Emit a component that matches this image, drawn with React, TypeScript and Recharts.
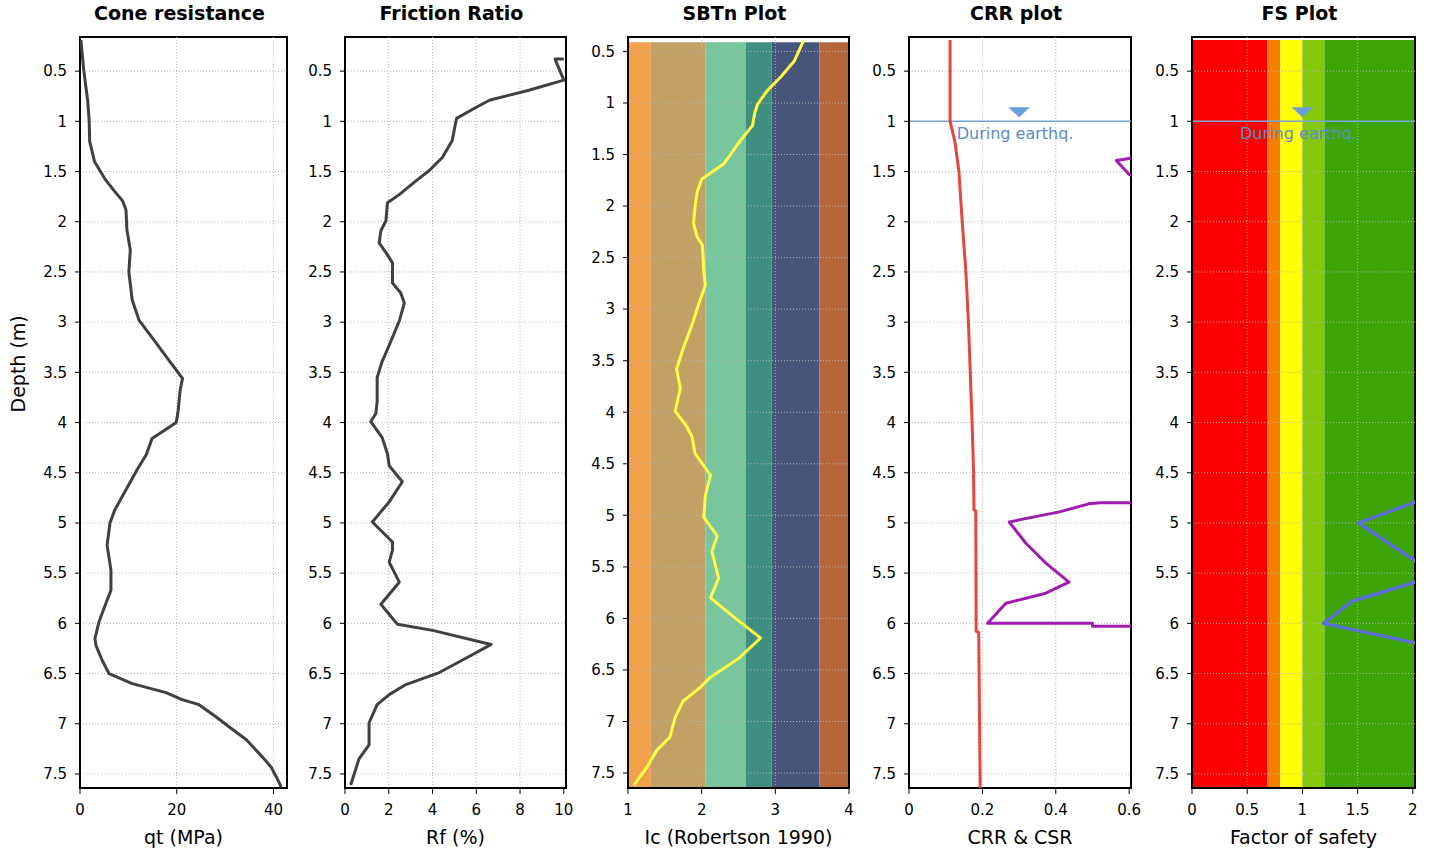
import React from "react";
import {
  ReferenceArea,
  ReferenceDot,
  ReferenceLine,
  Scatter,
  ScatterChart,
  XAxis,
  YAxis,
} from "recharts";

const FONT = "Tahoma, 'DejaVu Sans', sans-serif";

const depthTicks = [0.5, 1, 1.5, 2, 2.5, 3, 3.5, 4, 4.5, 5, 5.5, 6, 6.5, 7, 7.5];

// cone resistance qt (MPa)
const qtDepth = [0.19, 0.3, 0.5, 0.65, 0.8, 1.0, 1.2, 1.4, 1.57, 1.7, 1.79, 1.88, 2.08, 2.28, 2.5, 2.78, 2.98, 3.18, 3.38, 3.56, 3.68, 3.88, 4.0, 4.16, 4.32, 4.47, 4.67, 4.87, 5.0, 5.22, 5.47, 5.67, 5.82, 5.99, 6.15, 6.22, 6.37, 6.5, 6.6, 6.69, 6.76, 6.81, 6.93, 7.03, 7.16, 7.33, 7.43, 7.53, 7.63];
const qtValue = [0.2, 0.4, 0.8, 1.2, 1.6, 1.9, 2.0, 3.0, 5.1, 7.2, 8.8, 9.5, 9.7, 10.4, 10.1, 10.8, 12.2, 15.3, 18.4, 21.2, 20.7, 20.3, 19.9, 14.9, 13.7, 11.8, 9.5, 7.2, 6.2, 5.6, 6.4, 6.4, 5.2, 3.9, 3.1, 3.3, 4.6, 6.0, 10.8, 17.8, 21.1, 24.6, 28.1, 30.8, 34.4, 37.7, 39.5, 40.6, 41.6];

// friction ratio Rf (%)
const rfDepth = [0.38, 0.38, 0.59, 0.69, 0.79, 0.86, 0.97, 1.19, 1.36, 1.49, 1.6, 1.73, 1.81, 1.99, 2.09, 2.21, 2.33, 2.41, 2.61, 2.71, 2.81, 2.99, 3.23, 3.39, 3.55, 3.79, 3.91, 3.99, 4.15, 4.31, 4.43, 4.59, 4.79, 4.99, 5.19, 5.27, 5.39, 5.59, 5.81, 6.01, 6.07, 6.21, 6.31, 6.49, 6.61, 6.71, 6.81, 6.99, 7.21, 7.35, 7.61];
const rfValue = [10.0, 9.6, 10.0, 8.4, 6.6, 6.0, 5.1, 4.9, 4.45, 3.85, 3.2, 2.48, 1.94, 1.87, 1.64, 1.56, 1.94, 2.17, 2.17, 2.55, 2.71, 2.48, 2.02, 1.7, 1.47, 1.47, 1.41, 1.18, 1.7, 1.94, 2.02, 2.62, 2.02, 1.25, 2.17, 2.17, 2.02, 2.48, 1.64, 2.4, 4.0, 6.68, 5.84, 4.31, 2.78, 2.02, 1.47, 1.1, 1.1, 0.64, 0.26];

// soil behaviour type index Ic
const icDepth = [0.4, 0.59, 0.75, 0.88, 1.01, 1.1, 1.22, 1.36, 1.59, 1.74, 1.86, 2.01, 2.17, 2.3, 2.38, 2.64, 2.77, 2.95, 3.15, 3.38, 3.58, 3.77, 3.99, 4.14, 4.24, 4.4, 4.61, 4.81, 5.02, 5.2, 5.35, 5.61, 5.8, 6.0, 6.19, 6.39, 6.57, 6.67, 6.8, 6.96, 7.15, 7.28, 7.45, 7.62];
const icValue = [3.38, 3.26, 3.07, 2.89, 2.76, 2.72, 2.69, 2.53, 2.3, 2.0, 1.94, 1.91, 1.89, 1.94, 2.01, 2.03, 2.05, 1.96, 1.87, 1.75, 1.66, 1.71, 1.64, 1.8, 1.87, 1.91, 2.12, 2.05, 2.03, 2.21, 2.14, 2.23, 2.12, 2.46, 2.8, 2.5, 2.12, 1.98, 1.75, 1.64, 1.57, 1.39, 1.25, 1.08];

// cyclic resistance / stress ratio
const crrDepth = [0.19, 1.0, 1.2, 1.5, 2.0, 2.5, 3.0, 3.5, 4.0, 4.5, 4.87, 4.88, 6.08, 6.09, 7.64];
const crrValue = [0.112, 0.112, 0.125, 0.136, 0.145, 0.155, 0.162, 0.167, 0.172, 0.176, 0.177, 0.182, 0.183, 0.19, 0.194];
const csrDepth = [0.19, 1.36, 1.39, 1.53, 1.6, 4.8, 4.8, 4.81, 4.89, 4.99, 5.2, 5.4, 5.59, 5.7, 5.8, 6.0, 6.0, 6.03, 6.03, 7.64];
const csrValue = [0.7, 0.62, 0.565, 0.6, 0.65, 0.7, 0.52, 0.49, 0.41, 0.273, 0.318, 0.373, 0.436, 0.373, 0.264, 0.214, 0.5, 0.5, 0.7, 0.7];

// factor of safety
const fsDepth = [0.19, 4.78, 5.0, 5.4, 5.58, 5.78, 6.0, 6.2, 7.64];
const fsValue = [3.0, 2.05, 1.51, 2.05, 2.05, 1.45, 1.19, 2.05, 3.0];

const sbtBounds = [1, 1.31, 2.05, 2.6, 2.95, 3.6, 4];
const sbtColors = ["#f2a04c", "#c3a065", "#78c59e", "#3f8e7f", "#46557a", "#b5663b"];
const fsBounds = [0, 0.68, 0.8, 1.0, 1.2, 2.02];
const fsColors = ["#fa0000", "#f77f00", "#ffff00", "#84c80c", "#3ca404"];

const waterDepth = 1;

type Series = { depth: number[]; value: number[]; color: string; width: number };

type PanelProps = {
  plotLeft: number;
  plotWidth: number;
  axisWidth: number;
  title: string;
  xLabel: string;
  xDomain: [number, number];
  xTicks: number[];
  gridX: number[];
  yDomain: [number, number];
  bandTop?: number;
  bounds?: number[];
  colors?: string[];
  series: Series[];
  waterX?: number;
  depthLabel?: boolean;
};

const toPoints = (depth: number[], value: number[]) =>
  depth.map((d, i) => ({ x: value[i], d }));

function DepthPanel(p: PanelProps) {
  const right = 14;
  const width = p.axisWidth + p.plotWidth + right;
  const tickStyle = { fill: "#000", fontSize: 15, fontFamily: FONT };
  return (
    <div style={{ position: "absolute", left: p.plotLeft - p.axisWidth, top: 0, width, height: 850 }}>
      <div
        style={{
          position: "absolute",
          left: p.axisWidth - 4,
          width: p.plotWidth,
          top: 2,
          textAlign: "center",
          fontFamily: FONT,
          fontWeight: "bold",
          fontSize: 19,
          color: "#000",
          whiteSpace: "nowrap",
        }}
      >
        {p.title}
      </div>
      <ScatterChart width={width} height={850} margin={{ top: 37, right, bottom: 0, left: 0 }}>
        <XAxis
          type="number"
          dataKey="x"
          domain={p.xDomain}
          ticks={p.xTicks}
          allowDataOverflow
          height={62}
          tickSize={6}
          tickMargin={10}
          tick={tickStyle}
          axisLine={{ stroke: "#000", strokeWidth: 2 }}
          tickLine={{ stroke: "#000" }}
          label={{ value: p.xLabel, position: "insideBottom", offset: 6, fill: "#000", fontSize: 19, fontFamily: FONT }}
        />
        <YAxis
          type="number"
          dataKey="d"
          domain={p.yDomain}
          reversed
          ticks={depthTicks}
          allowDataOverflow
          width={p.axisWidth}
          tickSize={5}
          tickMargin={8}
          tick={tickStyle}
          axisLine={{ stroke: "#000", strokeWidth: 2 }}
          tickLine={{ stroke: "#000" }}
          label={
            p.depthLabel
              ? { value: "Depth (m)", angle: -90, position: "insideLeft", offset: 18, fill: "#000", fontSize: 19, fontFamily: FONT }
              : undefined
          }
        />
        {p.bounds &&
          p.colors &&
          p.colors.map((c, i) => (
            <ReferenceArea
              key={"b" + i}
              x1={p.bounds![i]}
              x2={p.bounds![i + 1]}
              y1={p.bandTop}
              y2={p.yDomain[1]}
              fill={c}
              fillOpacity={1}
              stroke="none"
            />
          ))}
        {p.gridX.map((v) => (
          <ReferenceLine key={"gx" + v} x={v} stroke="#b4b4b4" strokeDasharray="1 2" />
        ))}
        {depthTicks.map((v) => (
          <ReferenceLine key={"gy" + v} y={v} stroke="#b4b4b4" strokeDasharray="1 2" />
        ))}
        {p.waterX !== undefined && (
          <ReferenceLine y={waterDepth} stroke="#78a6d6" strokeWidth={1.5} />
        )}
        {p.waterX !== undefined && (
          <ReferenceDot
            x={p.waterX}
            y={waterDepth}
            shape={(s: any) => (
              <g>
                <polygon
                  points={`${s.cx - 11},${s.cy - 14} ${s.cx + 11},${s.cy - 14} ${s.cx},${s.cy - 4}`}
                  fill="#6a9fd8"
                />
                <text x={s.cx - 4} y={s.cy + 18} textAnchor="middle" fontSize={16} fontFamily={FONT} fill="#5a8cc8">
                  During earthq.
                </text>
              </g>
            )}
          />
        )}
        {p.series.map((s, i) => (
          <Scatter
            key={"s" + i}
            data={toPoints(s.depth, s.value)}
            line={{ stroke: s.color, strokeWidth: s.width, strokeLinejoin: "round" }}
            shape={() => <g />}
            isAnimationActive={false}
          />
        ))}
        <ReferenceArea
          x1={p.xDomain[0]}
          x2={p.xDomain[1]}
          y1={p.yDomain[0]}
          y2={p.yDomain[1]}
          fill="none"
          stroke="#000"
          strokeWidth={2}
        />
      </ScatterChart>
    </div>
  );
}

export default function App() {
  const depthDomain: [number, number] = [0.16, 7.64];
  return (
    <div style={{ position: "absolute", left: 0, top: 0, width: 1430, height: 850, background: "#fff" }}>
      <DepthPanel
        plotLeft={80}
        plotWidth={207}
        axisWidth={80}
        title="Cone resistance"
        xLabel="qt (MPa)"
        xDomain={[0, 42.8]}
        xTicks={[0, 20, 40]}
        gridX={[20, 40]}
        yDomain={depthDomain}
        series={[{ depth: qtDepth, value: qtValue, color: "#404040", width: 3 }]}
        depthLabel
      />
      <DepthPanel
        plotLeft={345}
        plotWidth={221}
        axisWidth={50}
        title="Friction Ratio"
        xLabel="Rf (%)"
        xDomain={[0, 10.1]}
        xTicks={[0, 2, 4, 6, 8, 10]}
        gridX={[2, 4, 6, 8]}
        yDomain={depthDomain}
        series={[{ depth: rfDepth, value: rfValue, color: "#404040", width: 3 }]}
      />
      <DepthPanel
        plotLeft={628}
        plotWidth={221}
        axisWidth={50}
        title="SBTn Plot"
        xLabel="Ic (Robertson 1990)"
        xDomain={[1, 4]}
        xTicks={[1, 2, 3, 4]}
        gridX={[2, 3]}
        yDomain={[0.36, 7.645]}
        bandTop={0.41}
        bounds={sbtBounds}
        colors={sbtColors}
        series={[{ depth: icDepth, value: icValue, color: "#ffff44", width: 3 }]}
      />
      <DepthPanel
        plotLeft={909}
        plotWidth={222}
        axisWidth={50}
        title="CRR plot"
        xLabel="CRR & CSR"
        xDomain={[0, 0.605]}
        xTicks={[0, 0.2, 0.4, 0.6]}
        gridX={[0.2, 0.4]}
        yDomain={depthDomain}
        series={[
          { depth: crrDepth, value: crrValue, color: "#e4483c", width: 3 },
          { depth: csrDepth, value: csrValue, color: "#a01cb0", width: 3 },
        ]}
        waterX={0.3}
      />
      <DepthPanel
        plotLeft={1192}
        plotWidth={223}
        axisWidth={50}
        title="FS Plot"
        xLabel="Factor of safety"
        xDomain={[0, 2.02]}
        xTicks={[0, 0.5, 1, 1.5, 2]}
        gridX={[0.5, 1, 1.5]}
        yDomain={depthDomain}
        bandTop={0.19}
        bounds={fsBounds}
        colors={fsColors}
        series={[{ depth: fsDepth, value: fsValue, color: "#5b6fd6", width: 3.5 }]}
        waterX={1}
      />
    </div>
  );
}
